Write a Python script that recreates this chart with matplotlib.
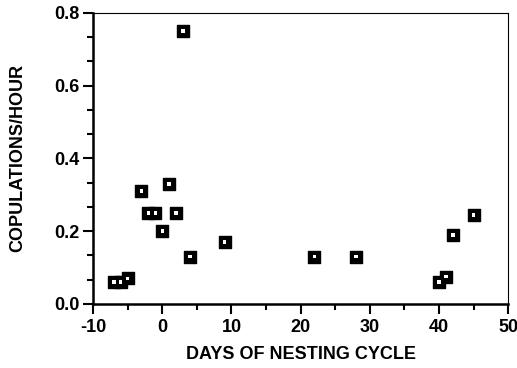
import matplotlib
matplotlib.use('Agg')
import matplotlib.pyplot as plt
from matplotlib.ticker import MultipleLocator, AutoMinorLocator

plt.rcParams.update({
    'font.family': ['Liberation Sans', 'DejaVu Sans'],
    'font.weight': 'bold',
    'font.size': 13,
    'axes.unicode_minus': False,
})

# Dias del ciclo de anidacion y copulas por hora
dias = [-7, -6, -5, -3, -2, -1, 0, 1, 2, 3, 4, 9, 22, 28, 40, 41, 42, 45]
copulas = [0.06, 0.06, 0.07, 0.31, 0.25, 0.25, 0.20, 0.33, 0.25, 0.75,
           0.13, 0.17, 0.13, 0.13, 0.06, 0.075, 0.19, 0.245]

fig = plt.figure(figsize=(5.17, 3.68), dpi=100)
ax = fig.add_axes([0.180, 0.174, 0.803, 0.791])

# marcador: cuadrado negro con un pequeño cuadrado blanco dentro
ax.scatter(dias, copulas, marker='s', s=85, color='black', zorder=3)
ax.scatter(dias, copulas, marker='s', s=6, facecolor='white',
           edgecolor='none', zorder=4)

ax.set_xlim(-10, 50)
ax.set_ylim(0, 0.8)
ax.xaxis.set_major_locator(MultipleLocator(10))
ax.xaxis.set_minor_locator(AutoMinorLocator(2))
ax.yaxis.set_major_locator(MultipleLocator(0.2))
ax.yaxis.set_minor_locator(AutoMinorLocator(3))
ax.yaxis.set_major_formatter(plt.FormatStrFormatter('%.1f'))

ax.tick_params(which='major', direction='out', length=7, width=1.5, pad=3)
ax.tick_params(which='minor', direction='out', length=4, width=1.5)
ax.tick_params(axis='x', pad=4)

for lado in ['left', 'bottom']:
    ax.spines[lado].set_linewidth(1.8)
for lado in ['top', 'right']:
    ax.spines[lado].set_linewidth(0.8)

ax.set_xlabel('DAYS OF NESTING CYCLE', fontweight='bold', labelpad=7)
ax.set_ylabel('COPULATIONS/HOUR', fontweight='bold', labelpad=20)

plt.savefig('out.png', dpi=100, facecolor='white')
plt.close()
